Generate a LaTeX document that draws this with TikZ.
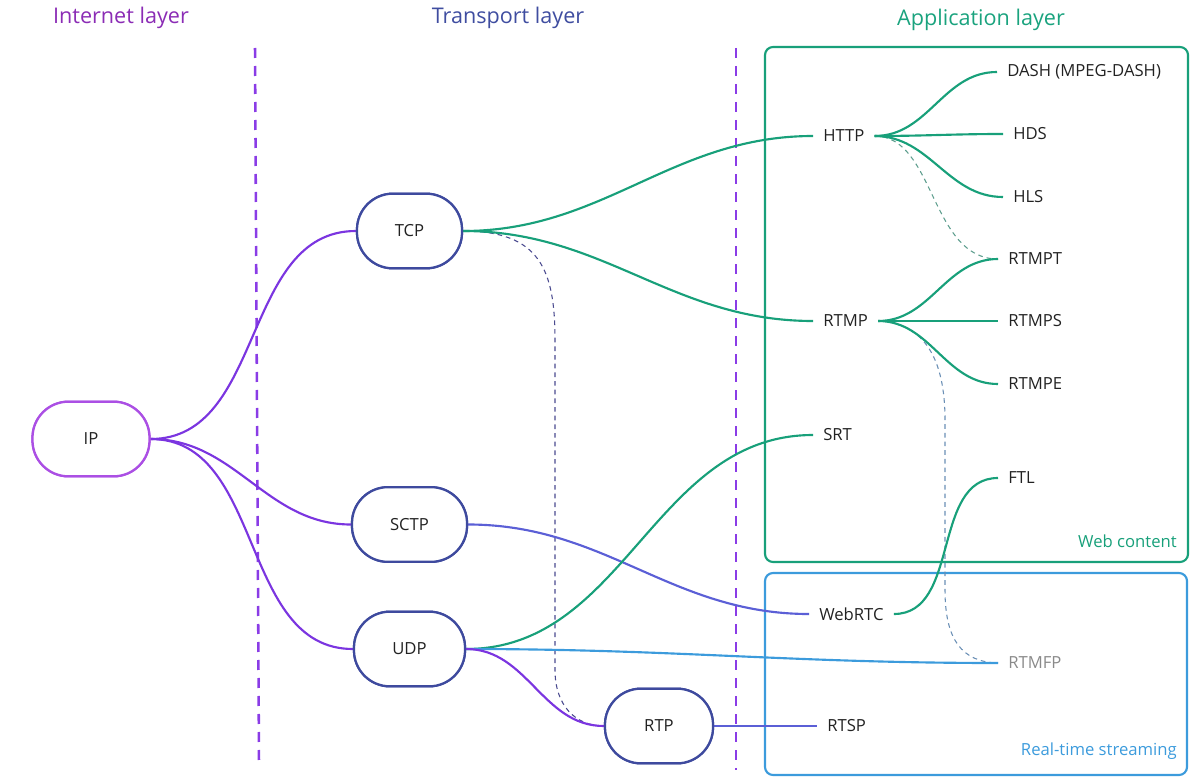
\documentclass[tikz,border=0pt]{standalone}
\usepackage{fontspec}
\setmainfont{Open Sans}
\definecolor{cIPb}{HTML}{AB4FE4}
\definecolor{cVio}{HTML}{7B35E0}
\definecolor{cTr}{HTML}{3E4A9E}
\definecolor{cGrn}{HTML}{18A07A}
\definecolor{cBlu}{HTML}{3C9BDC}
\definecolor{cInd}{HTML}{5B5FD6}
\definecolor{cDiv}{HTML}{8A3CE6}
\definecolor{hInt}{HTML}{8B2CB5}
\definecolor{hTr}{HTML}{3F4DA0}
\definecolor{hApp}{HTML}{1AA37E}
\definecolor{cTxt}{HTML}{222222}
\definecolor{cGray}{HTML}{8A8A8A}
\definecolor{dA}{HTML}{4A4A8F}
\definecolor{dB}{HTML}{5E9E8E}
\definecolor{dC}{HTML}{6A8FB5}
\newcommand\lblfnt{\fontsize{12.5}{15}\selectfont}
\newcommand\headfnt{\fontsize{16.2}{19}\selectfont}
\newcommand\boxfnt{\fontsize{12.5}{15}\selectfont}
\begin{document}
\begin{tikzpicture}[x=0.75pt,y=-0.75pt,
  proto/.style={draw=cTr, fill=white, rounded corners=27pt, minimum height=56pt, line width=1.7pt, font=\lblfnt, text=cTxt},
  lab/.style={anchor=west, inner xsep=7.5pt, inner ysep=2pt, font=\lblfnt, text=cTxt},
  head/.style={font=\headfnt, inner sep=0pt},
  conn/.style={line width=1.6pt},
  thin/.style={line width=0.8pt, dash pattern=on 3.5pt off 3pt},
  divider/.style={line width=1.9pt, color=cDiv, dash pattern=on 7.5pt off 6pt},
  area/.style={line width=1.6pt, rounded corners=6pt},
  arealbl/.style={font=\boxfnt, anchor=east, inner sep=0pt},
  curve/.style={out=0, in=180}
]
\useasboundingbox (0,0) rectangle (1191,781);

% areas
\draw[area, draw=cGrn] (765,47) rectangle (1188,562);
\draw[area, draw=cBlu] (765,573) rectangle (1187,775);
\node[arealbl, text=cGrn] (webc) at (1177,541) {Web content};
\node[arealbl, text=cBlu] (rts) at (1177,751) {Real-time streaming};

% headings
\node[head, text=hInt] (hint) at (121,18) {Internet layer};
\node[head, text=hTr] (htr) at (508,18) {Transport layer};
\node[head, text=hApp] (happ) at (981,20) {Application layer};

% dividers
\coordinate (d1t) at (255,48);
\coordinate (d1b) at (259,763);
\coordinate (d2t) at (736,48);
\coordinate (d2b) at (736,770);
\draw[divider] (d1t) -- (d1b);
\draw[divider] (d2t) -- (d2b);

% protocol nodes
\node[proto, draw=cIPb, minimum width=87.75pt] (ip) at (91,439) {IP};
\node[proto, minimum width=78.75pt] (tcp) at (409.5,231) {TCP};
\node[proto, minimum width=86.25pt] (sctp) at (409.5,524.5) {SCTP};
\node[proto, minimum width=83.25pt] (udp) at (409.5,649) {UDP};
\node[proto, minimum width=81pt] (rtp) at (659,726) {RTP};

% labels
\node[lab] (http) at (813,136) {HTTP};
\node[lab] (rtmp) at (813,321) {RTMP};
\node[lab] (srt) at (813,435) {SRT};
\node[lab] (webrtc) at (809,614) {WebRTC};
\node[lab] (rtsp) at (817,726) {RTSP};
\node[lab] (dash) at (997,72) {DASH (MPEG-DASH)};
\node[lab] (hds) at (1003,134) {HDS};
\node[lab] (hls) at (1003,197) {HLS};
\node[lab] (rtmpt) at (998,259) {RTMPT};
\node[lab] (rtmps) at (998,321) {RTMPS};
\node[lab] (rtmpe) at (998,384) {RTMPE};
\node[lab] (ftl) at (998,478) {FTL};
\node[lab, text=cGray] (rtmfp) at (998,663) {RTMFP};

% dashed relations
\draw[thin, color=dA] (tcp.east) .. controls (540,231) and (555,270) .. (555,340) -- (555,670) .. controls (555,705) and (575,726) .. (rtp.west);
\draw[thin, color=dB] (http.east) .. controls (935,136) and (930,259) .. (rtmpt.west);
\draw[thin, color=dC] (rtmp.east) .. controls (925,323) and (945,360) .. (945,420) -- (945,590) .. controls (945,640) and (962,662) .. (rtmfp.west);

% IP connectors
\draw[conn, cVio] (ip.east) to[curve] (tcp.west);
\draw[conn, cVio] (ip.east) to[curve] (sctp.west);
\draw[conn, cVio] (ip.east) to[curve] (udp.west);

% transport connectors
\draw[conn, cGrn] (tcp.east) to[curve] (http.west);
\draw[conn, cGrn] (tcp.east) to[curve] (rtmp.west);
\draw[conn, cInd] (sctp.east) to[curve] (webrtc.west);
\draw[conn, cGrn] (udp.east) to[curve] (srt.west);
\draw[conn, cBlu] (udp.east) to[curve] (rtmfp.west);
\draw[conn, cVio] (udp.east) to[curve] (rtp.west);
\draw[conn, cInd] (rtp.east) -- (rtsp.west);

% application connectors
\draw[conn, cGrn] (http.east) to[curve] (dash.west);
\draw[conn, cGrn] (http.east) to[curve] (hds.west);
\draw[conn, cGrn] (http.east) to[curve] (hls.west);
\draw[conn, cGrn] (rtmp.east) to[curve] (rtmpt.west);
\draw[conn, cGrn] (rtmp.east) to[curve] (rtmps.west);
\draw[conn, cGrn] (rtmp.east) to[curve] (rtmpe.west);
\draw[conn, cGrn] (webrtc.east) to[curve] (ftl.west);

% redraw nodes on top
\node[proto, draw=cIPb, minimum width=87.75pt] at (ip) {IP};
\node[proto, minimum width=78.75pt] at (tcp) {TCP};
\node[proto, minimum width=86.25pt] at (sctp) {SCTP};
\node[proto, minimum width=83.25pt] at (udp) {UDP};
\node[proto, minimum width=81pt] at (rtp) {RTP};
\end{tikzpicture}
\end{document}
